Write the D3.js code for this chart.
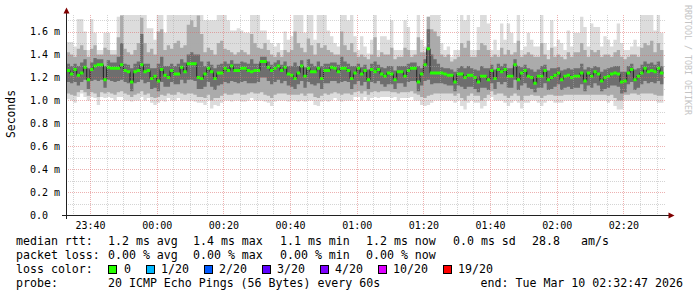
<!DOCTYPE html>
<html>
<head>
<meta charset="utf-8">
<script src="https://cdn.jsdelivr.net/npm/d3@7/dist/d3.min.js"></script>
<style>
  body { margin: 0; background: #fff; }
  text { font-family: "DejaVu Sans Mono", monospace; fill: #000; }
</style>
</head>
<body>
<svg id="chart" width="697" height="297"></svg>
<script>
// one value per minute, 23:33 .. 02:31 (ms)
var median = [
  1.26,1.23,1.27,1.22,1.24,1.29,1.18,1.27,1.30,1.31,
  1.31,1.18,1.29,1.28,1.28,1.28,1.31,1.26,1.25,1.16,
  1.25,1.26,1.31,1.25,1.26,1.19,1.21,1.17,1.27,1.22,
  1.20,1.26,1.23,1.23,1.29,1.25,1.32,1.32,1.32,1.20,
  1.19,1.23,1.28,1.25,1.19,1.24,1.24,1.28,1.26,1.30,
  1.26,1.26,1.28,1.28,1.26,1.25,1.26,1.26,1.34,1.34,
  1.29,1.26,1.28,1.30,1.26,1.29,1.23,1.22,1.19,1.24,
  1.30,1.21,1.28,1.25,1.25,1.28,1.19,1.26,1.26,1.29,
  1.28,1.25,1.28,1.28,1.26,1.19,1.24,1.28,1.23,1.26,
  1.18,1.27,1.25,1.27,1.23,1.21,1.24,1.23,1.18,1.25,
  1.25,1.21,1.26,1.28,1.28,1.16,1.23,1.31,1.45,1.24,
  1.24,1.24,1.24,1.23,1.22,1.22,1.16,1.23,1.23,1.20,
  1.22,1.22,1.20,1.16,1.21,1.21,1.18,1.26,1.19,1.27,
  1.25,1.27,1.21,1.21,1.31,1.18,1.24,1.26,1.21,1.20,
  1.15,1.21,1.21,1.26,1.18,1.20,1.22,1.24,1.18,1.21,
  1.22,1.20,1.21,1.21,1.24,1.17,1.24,1.21,1.25,1.23,
  1.17,1.20,1.21,1.23,1.24,1.23,1.16,1.17,1.24,1.27,
  1.18,1.21,1.24,1.28,1.25,1.26,1.25,1.28,1.24
];
var pingMax = [
  1.51,1.51,1.47,1.71,1.71,1.60,1.44,1.71,1.59,1.44,
  1.44,1.59,1.59,1.44,1.44,1.73,1.75,1.75,1.75,1.75,
  1.75,1.75,1.75,1.75,1.63,1.63,1.53,1.75,1.75,1.59,
  1.75,1.75,1.75,1.75,1.75,1.75,1.75,1.75,1.75,1.75,
  1.75,1.70,1.70,1.70,1.70,1.75,1.75,1.75,1.70,1.61,
  1.61,1.63,1.61,1.59,1.59,1.75,1.75,1.75,1.61,1.61,
  1.53,1.50,1.47,1.50,1.44,1.60,1.53,1.56,1.75,1.75,
  1.75,1.59,1.75,1.75,1.53,1.75,1.75,1.75,1.61,1.56,
  1.50,1.47,1.75,1.75,1.70,1.75,1.56,1.44,1.56,1.47,
  1.41,1.53,1.75,1.44,1.56,1.56,1.53,1.70,1.44,1.44,
  1.44,1.70,1.64,1.44,1.44,1.75,1.53,1.47,1.73,1.75,
  1.75,1.75,1.50,1.44,1.47,1.38,1.44,1.44,1.75,1.70,
  1.75,1.44,1.44,1.64,1.75,1.75,1.67,1.44,1.53,1.44,
  1.67,1.53,1.67,1.59,1.50,1.75,1.44,1.47,1.59,1.53,
  1.47,1.47,1.75,1.50,1.44,1.70,1.47,1.53,1.50,1.44,
  1.61,1.47,1.59,1.59,1.73,1.64,1.47,1.67,1.64,1.64,
  1.47,1.56,1.53,1.47,1.53,1.67,1.50,1.44,1.44,1.47,
  1.53,1.47,1.75,1.75,1.75,1.75,1.61,1.75,1.59
];
var pingMin = [
  1.01,1.00,0.98,1.03,1.06,1.03,1.00,1.03,1.02,0.96,
  1.03,1.02,1.03,1.02,1.00,1.03,1.03,1.00,1.00,0.99,
  1.00,1.00,1.03,1.00,1.02,0.98,0.96,0.98,1.00,0.99,
  1.02,1.00,1.00,1.02,1.00,1.00,1.00,1.00,0.99,0.98,
  0.98,0.96,1.00,0.93,0.96,0.95,0.98,1.00,1.00,0.99,
  1.00,1.00,0.99,0.99,1.00,1.02,1.00,1.00,1.00,0.99,
  0.98,0.95,0.99,1.00,1.00,1.00,0.99,1.00,1.00,0.99,
  1.00,0.99,1.00,1.00,0.96,0.95,0.99,1.00,0.99,1.00,
  1.02,1.00,0.99,1.00,1.00,1.00,1.03,1.03,1.00,1.03,
  1.00,1.02,1.03,1.02,1.03,1.03,1.03,1.02,1.03,1.00,
  1.02,1.02,1.02,1.03,1.00,1.00,0.96,0.95,0.96,0.98,
  1.00,1.00,1.00,1.00,1.00,1.00,0.98,1.00,0.95,0.92,
  0.98,1.00,0.98,0.98,0.93,0.95,1.00,1.03,1.00,1.00,
  1.00,0.98,0.95,0.98,1.00,0.98,0.93,0.98,0.98,1.00,
  1.00,0.98,0.95,0.98,1.00,1.00,0.98,0.98,0.98,1.00,
  1.00,1.00,1.00,1.00,1.00,1.00,1.00,1.00,1.00,1.00,
  1.00,1.00,0.98,1.00,0.95,0.92,0.92,1.00,1.00,1.00,
  1.00,1.00,1.00,1.00,1.00,1.00,1.00,0.98,0.98
];
var midHigh = [
  1.42,1.40,1.38,1.45,1.48,1.44,1.38,1.45,1.48,1.40,
  1.40,1.46,1.44,1.40,1.40,1.55,1.74,1.45,1.42,1.40,
  1.44,1.50,1.72,1.50,1.42,1.45,1.40,1.60,1.62,1.44,
  1.48,1.45,1.50,1.52,1.46,1.48,1.66,1.70,1.64,1.74,
  1.58,1.42,1.46,1.44,1.40,1.50,1.52,1.45,1.44,1.42,
  1.40,1.42,1.44,1.42,1.40,1.58,1.50,1.46,1.45,1.50,
  1.44,1.40,1.38,1.42,1.38,1.44,1.42,1.44,1.60,1.50,
  1.46,1.42,1.54,1.48,1.40,1.50,1.46,1.48,1.44,1.42,
  1.40,1.40,1.60,1.48,1.44,1.50,1.42,1.38,1.40,1.38,
  1.36,1.40,1.55,1.38,1.42,1.40,1.40,1.46,1.36,1.38,
  1.38,1.46,1.44,1.38,1.40,1.55,1.42,1.42,1.73,1.62,
  1.60,1.56,1.40,1.38,1.40,1.34,1.36,1.38,1.50,1.46,
  1.52,1.38,1.38,1.44,1.50,1.48,1.44,1.38,1.40,1.38,
  1.46,1.40,1.44,1.40,1.42,1.52,1.38,1.40,1.42,1.40,
  1.38,1.38,1.50,1.40,1.36,1.46,1.38,1.40,1.38,1.36,
  1.42,1.38,1.42,1.42,1.50,1.44,1.38,1.44,1.42,1.44,
  1.38,1.40,1.40,1.38,1.42,1.44,1.38,1.36,1.38,1.40,
  1.40,1.38,1.46,1.50,1.48,1.52,1.42,1.50,1.44
];
var midLow = [
  1.06,1.05,1.04,1.07,1.09,1.07,1.04,1.07,1.06,1.03,
  1.07,1.06,1.07,1.06,1.05,1.07,1.08,1.06,1.05,1.03,
  1.05,1.06,1.08,1.05,1.06,1.03,1.02,1.03,1.05,1.04,
  1.06,1.05,1.05,1.07,1.06,1.05,1.06,1.06,1.05,1.03,
  1.03,1.02,1.05,1.00,1.02,1.02,1.04,1.06,1.05,1.05,
  1.06,1.06,1.05,1.05,1.06,1.07,1.06,1.06,1.07,1.05,
  1.04,1.02,1.05,1.06,1.06,1.06,1.05,1.05,1.05,1.05,
  1.06,1.04,1.06,1.06,1.03,1.02,1.04,1.06,1.05,1.06,
  1.07,1.06,1.05,1.06,1.06,1.05,1.07,1.08,1.06,1.08,
  1.05,1.07,1.08,1.07,1.08,1.08,1.08,1.07,1.07,1.06,
  1.07,1.07,1.07,1.08,1.06,1.05,1.03,1.02,1.04,1.05,
  1.06,1.06,1.06,1.06,1.06,1.06,1.04,1.06,1.02,1.00,
  1.04,1.06,1.04,1.04,1.00,1.02,1.05,1.08,1.05,1.06,
  1.06,1.04,1.02,1.04,1.06,1.04,1.00,1.04,1.04,1.05,
  1.04,1.04,1.02,1.04,1.05,1.05,1.04,1.04,1.04,1.05,
  1.05,1.05,1.05,1.05,1.05,1.05,1.05,1.05,1.05,1.05,
  1.05,1.05,1.04,1.05,1.02,1.00,1.00,1.05,1.05,1.06,
  1.06,1.05,1.06,1.06,1.06,1.06,1.05,1.04,1.04
];
var coreHigh = [
  1.32,1.30,1.32,1.30,1.33,1.36,1.28,1.33,1.37,1.36,
  1.36,1.30,1.35,1.33,1.33,1.38,1.50,1.32,1.31,1.28,
  1.32,1.34,1.58,1.32,1.32,1.28,1.28,1.32,1.38,1.30,
  1.30,1.32,1.30,1.32,1.36,1.33,1.40,1.42,1.40,1.40,
  1.34,1.30,1.34,1.31,1.28,1.31,1.32,1.34,1.32,1.35,
  1.32,1.32,1.34,1.33,1.32,1.36,1.32,1.32,1.38,1.38,
  1.34,1.31,1.33,1.35,1.31,1.34,1.30,1.30,1.33,1.30,
  1.35,1.29,1.36,1.32,1.30,1.34,1.30,1.32,1.32,1.33,
  1.33,1.31,1.38,1.34,1.32,1.30,1.30,1.32,1.29,1.31,
  1.27,1.32,1.34,1.31,1.29,1.28,1.30,1.30,1.26,1.30,
  1.30,1.30,1.32,1.33,1.33,1.30,1.28,1.36,1.62,1.40,
  1.36,1.32,1.29,1.28,1.28,1.27,1.25,1.28,1.30,1.28,
  1.30,1.28,1.27,1.26,1.30,1.28,1.28,1.31,1.27,1.32,
  1.30,1.32,1.28,1.28,1.36,1.30,1.29,1.31,1.28,1.27,
  1.25,1.27,1.30,1.31,1.26,1.28,1.28,1.29,1.26,1.27,
  1.28,1.27,1.28,1.28,1.32,1.27,1.29,1.28,1.30,1.29,
  1.25,1.27,1.28,1.29,1.30,1.30,1.25,1.25,1.30,1.32,
  1.27,1.28,1.31,1.34,1.32,1.33,1.31,1.34,1.30
];
var coreLow = [
  1.16,1.15,1.16,1.13,1.16,1.18,1.10,1.17,1.18,1.17,
  1.18,1.11,1.18,1.17,1.16,1.17,1.18,1.16,1.15,1.08,
  1.15,1.16,1.18,1.15,1.16,1.10,1.11,1.08,1.16,1.12,
  1.12,1.16,1.14,1.14,1.18,1.15,1.18,1.18,1.17,1.10,
  1.10,1.12,1.16,1.12,1.09,1.13,1.14,1.16,1.15,1.17,
  1.16,1.15,1.16,1.17,1.15,1.15,1.15,1.16,1.20,1.20,
  1.17,1.14,1.16,1.18,1.15,1.17,1.13,1.12,1.10,1.14,
  1.17,1.11,1.16,1.14,1.13,1.15,1.10,1.15,1.15,1.17,
  1.17,1.15,1.16,1.17,1.16,1.10,1.14,1.17,1.13,1.16,
  1.10,1.16,1.15,1.17,1.14,1.12,1.14,1.14,1.10,1.15,
  1.15,1.12,1.16,1.17,1.17,1.08,1.13,1.17,1.18,1.14,
  1.15,1.15,1.15,1.14,1.13,1.13,1.08,1.13,1.12,1.10,
  1.12,1.12,1.10,1.07,1.11,1.11,1.09,1.15,1.10,1.16,
  1.14,1.16,1.11,1.11,1.18,1.09,1.13,1.15,1.11,1.10,
  1.07,1.11,1.11,1.15,1.09,1.10,1.12,1.14,1.09,1.11,
  1.12,1.10,1.11,1.11,1.14,1.08,1.13,1.11,1.15,1.13,
  1.08,1.10,1.11,1.13,1.13,1.12,1.06,1.07,1.14,1.16,
  1.09,1.11,1.14,1.17,1.15,1.16,1.15,1.17,1.14
];

var yMajor = [0.2, 0.4, 0.6, 0.8, 1.0, 1.2, 1.4, 1.6];
var yMinor = [0.1, 0.3, 0.5, 0.7, 0.9, 1.1, 1.3, 1.5, 1.7];
var yLabels = ["0.0", "0.2 m", "0.4 m", "0.6 m", "0.8 m", "1.0 m", "1.2 m", "1.4 m", "1.6 m"];

var lossLabels = ["0", "1/20", "2/20", "3/20", "4/20", "10/20", "19/20"];
var lossColors = ["#26ff00", "#00b8ff", "#0059ff", "#5e00ff", "#7e00ff", "#dd00ff", "#ff0000"];
var lossBoxX = [108, 146, 204, 262, 320, 378, 443];
var lossTextX = [124, 161, 219, 277, 335, 393, 458];

var rttStats = ["1.2 ms avg", "1.4 ms max", "1.1 ms min", "1.2 ms now", "0.0 ms sd", "28.8", "am/s"];
var lossStats = ["0.00 % avg", "0.00 % max", "0.00 % min", "0.00 % now"];
var statX = [108, 193, 280, 366, 453, 532, 581];

var start = new Date(Date.UTC(2026, 2, 9, 23, 32, 47));
var end = new Date(Date.UTC(2026, 2, 10, 2, 32, 47));
var firstStep = new Date(Date.UTC(2026, 2, 9, 23, 33, 0));

var svg = d3.select("#chart");
svg.append("rect").attr("width", 697).attr("height", 297).attr("fill", "#fff");

var x = d3.scaleUtc().domain([start, end]).range([66, 666]);
var y = d3.scaleLinear().domain([0, 1.745]).range([215, 15]);

var rows = median.map(function(m, i) {
  return {
    t: d3.utcMinute.offset(firstStep, i),
    med: m, max: pingMax[i], min: pingMin[i],
    hi2: midHigh[i], lo2: midLow[i], hi3: coreHigh[i], lo3: coreLow[i]
  };
});
// closing point so the last step gets its full minute
var tail = Object.assign({}, rows[rows.length - 1]);
tail.t = d3.utcMinute.offset(firstStep, rows.length);
var steps = rows.concat([tail]);

svg.append("clipPath").attr("id", "plotclip")
  .append("rect").attr("x", 66).attr("y", 15).attr("width", 600).attr("height", 200);

var plot = svg.append("g").attr("clip-path", "url(#plotclip)");

var bands = [
  { hi: "max", lo: "min", color: "#dcdcdc" },
  { hi: "hi2", lo: "lo2", color: "#ababab" },
  { hi: "hi3", lo: "lo3", color: "#6e6e6e" }
];
bands.forEach(function(b) {
  var area = d3.area()
    .curve(d3.curveStepAfter)
    .x(function(d) { return x(d.t); })
    .y0(function(d) { return y(d[b.lo]); })
    .y1(function(d) { return y(d[b.hi]); });
  plot.append("path").datum(steps)
    .attr("d", area)
    .attr("fill", b.color);
});

plot.append("path").datum(steps)
  .attr("d", d3.line().curve(d3.curveStepAfter)
    .x(function(d) { return x(d.t); })
    .y(function(d) { return y(d.med); }))
  .attr("fill", "none")
  .attr("stroke", "#202020")
  .attr("stroke-width", 1);

plot.append("path").datum(steps)
  .attr("d", d3.area().curve(d3.curveStepAfter)
    .x(function(d) { return x(d.t); })
    .y0(function(d) { return y(d.med) + 1.5; })
    .y1(function(d) { return y(d.med) - 1.5; }))
  .attr("fill", lossColors[0]);

// grid
var gridMinor = "rgba(170,170,170,0.5)";
var gridMajor = "rgba(220,100,100,0.5)";
var grid = svg.append("g").attr("shape-rendering", "crispEdges");
var minorTimes = d3.utcMinute.every(5).range(start, end).filter(function(t) { return t.getUTCMinutes() % 20 != 0; });
var majorTimes = d3.utcMinute.every(20).range(start, end);

grid.selectAll("line.vminor").data(minorTimes).enter().append("line")
  .attr("x1", function(d) { return Math.round(x(d)) + 0.5; })
  .attr("x2", function(d) { return Math.round(x(d)) + 0.5; })
  .attr("y1", 15).attr("y2", 215)
  .attr("stroke", gridMinor).attr("stroke-dasharray", "1,1");
grid.selectAll("line.hminor").data(yMinor).enter().append("line")
  .attr("x1", 66).attr("x2", 666)
  .attr("y1", function(d) { return Math.round(y(d)) + 0.5; })
  .attr("y2", function(d) { return Math.round(y(d)) + 0.5; })
  .attr("stroke", gridMinor).attr("stroke-dasharray", "1,1");
grid.selectAll("line.vmajor").data(majorTimes).enter().append("line")
  .attr("x1", function(d) { return Math.round(x(d)) + 0.5; })
  .attr("x2", function(d) { return Math.round(x(d)) + 0.5; })
  .attr("y1", 15).attr("y2", 215)
  .attr("stroke", gridMajor).attr("stroke-dasharray", "1,1");
grid.selectAll("line.hmajor").data(yMajor).enter().append("line")
  .attr("x1", 66).attr("x2", 666)
  .attr("y1", function(d) { return Math.round(y(d)) + 0.5; })
  .attr("y2", function(d) { return Math.round(y(d)) + 0.5; })
  .attr("stroke", gridMajor).attr("stroke-dasharray", "1,1");

// axes + arrows
svg.append("line").attr("x1", 66.5).attr("x2", 66.5).attr("y1", 219).attr("y2", 11)
  .attr("stroke", "#202020");
svg.append("line").attr("x1", 62).attr("x2", 670).attr("y1", 215.5).attr("y2", 215.5)
  .attr("stroke", "#202020");
svg.append("path").attr("d", "M63.5,13.5L69.5,13.5L66.5,7.5Z").attr("fill", "#800000");
svg.append("path").attr("d", "M668.5,212.5L668.5,218.5L674.5,215.5Z").attr("fill", "#800000");

// axis labels
svg.selectAll("text.ylab").data([0].concat(yMajor)).enter().append("text")
  .attr("x", 30)
  .attr("y", function(d) { return y(d) + 3.7; })
  .style("font-size", "10px")
  .text(function(d, i) { return yLabels[i]; });

var fmt = d3.utcFormat("%H:%M");
svg.selectAll("text.xlab").data(majorTimes).enter().append("text")
  .attr("x", function(d) { return x(d) + 0.5; })
  .attr("y", 229)
  .attr("text-anchor", "middle")
  .style("font-size", "10px")
  .text(function(d) { return fmt(d); });

svg.append("text")
  .attr("transform", "translate(15,114) rotate(-90)")
  .attr("text-anchor", "middle")
  .style("font-size", "11.4px")
  .text("Seconds");

svg.append("text")
  .attr("transform", "translate(685,5) rotate(90)")
  .style("font-size", "8.3px")
  .style("fill", "#c4c4c4")
  .text("RRDTOOL / TOBI OETIKER");

// legend
var legend = svg.append("g").style("font-size", "11.6px");
legend.append("text").attr("x", 16).attr("y", 245).text("median rtt:");
legend.selectAll("text.rtt").data(rttStats).enter().append("text")
  .attr("x", function(d, i) { return statX[i]; }).attr("y", 245)
  .text(function(d) { return d; });

legend.append("text").attr("x", 16).attr("y", 259).text("packet loss:");
legend.selectAll("text.loss").data(lossStats).enter().append("text")
  .attr("x", function(d, i) { return statX[i]; }).attr("y", 259)
  .text(function(d) { return d; });

legend.append("text").attr("x", 16).attr("y", 273).text("loss color:");
legend.selectAll("rect.box").data(lossColors).enter().append("rect")
  .attr("x", function(d, i) { return lossBoxX[i] + 0.5; })
  .attr("y", 265.5).attr("width", 8).attr("height", 8)
  .attr("fill", function(d) { return d; })
  .attr("stroke", "#000").attr("shape-rendering", "crispEdges");
legend.selectAll("text.lc").data(lossLabels).enter().append("text")
  .attr("x", function(d, i) { return lossTextX[i]; }).attr("y", 273)
  .text(function(d) { return d; });

legend.append("text").attr("x", 16).attr("y", 287).text("probe:");
legend.append("text").attr("x", 108).attr("y", 287).text("20 ICMP Echo Pings (56 Bytes) every 60s");
legend.append("text").attr("x", 683).attr("y", 287).attr("text-anchor", "end")
  .text("end: Tue Mar 10 02:32:47 2026");
</script>
</body>
</html>
